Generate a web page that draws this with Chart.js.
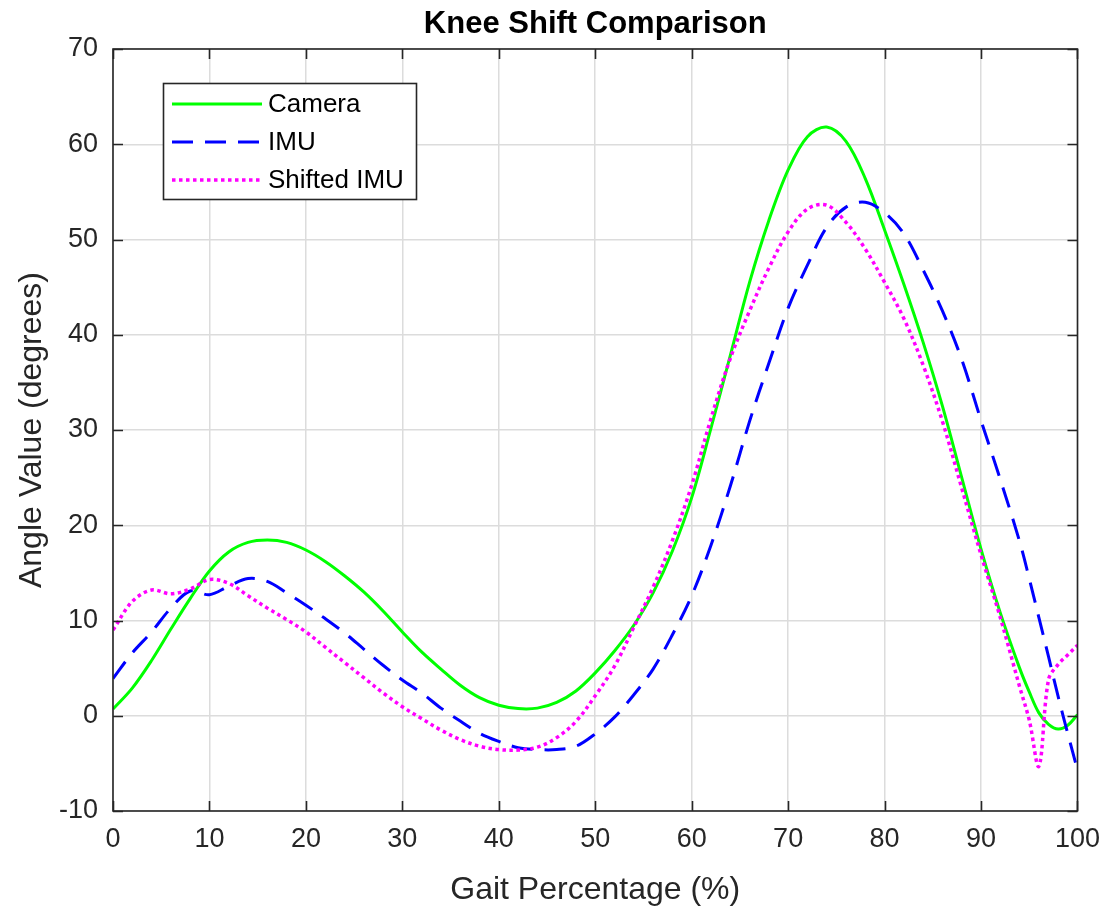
<!DOCTYPE html>
<html>
<head>
<meta charset="utf-8">
<title>Knee Shift Comparison</title>
<script src="https://cdn.jsdelivr.net/npm/chart.js@4.4.1/dist/chart.umd.min.js"></script>
<style>
  html, body { margin: 0; padding: 0; background: #ffffff; }
  #wrap { width: 1112px; height: 909px; }
</style>
</head>
<body>
<div id="wrap"><canvas id="knee" width="1112" height="909"></canvas></div>
<script>
// Gait cycle samples (%) shared by all three traces
const gaitPct = [0, 2, 4, 6, 8, 10, 12, 14, 16, 18, 20, 22, 24, 26, 28, 30, 32, 34, 36, 38,
  40, 42, 44, 46, 48, 50, 52, 54, 56, 58, 60, 62, 64, 66, 68, 70, 72, 74, 76, 78,
  80, 82, 84, 86, 88, 90, 92, 94, 95, 96, 97, 98, 99, 100];

// Knee angle from the camera system (degrees)
const cameraAngle = [0.7, 2.9, 5.8, 9.1, 12.3, 15.2, 17.2, 18.2, 18.45, 18.2, 17.4, 16.2, 14.7, 13.0, 11.0, 8.8, 6.7, 4.9, 3.2, 1.9,
  1.1, 0.75, 0.8, 1.4, 2.6, 4.5, 6.8, 9.5, 12.9, 17.3, 22.9, 30.2, 37.8, 45.5, 52.0, 57.3, 60.8, 61.8, 60.3, 56.4,
  51.0, 45.3, 39.2, 32.5, 25.0, 17.5, 10.8, 5.0, 2.5, 0.3, -0.9, -1.4, -1.0, 0.1];

// Knee angle from the IMU (degrees)
const imuAngle = [3.9, 6.6, 8.8, 11.3, 13.1, 12.7, 13.6, 14.4, 14.1, 12.9, 11.6, 10.2, 8.7, 7.0, 5.3, 3.75, 2.4, 0.8, -0.55, -1.85,
  -2.7, -3.35, -3.55, -3.55, -3.2, -1.9, -0.15, 2.2, 4.9, 8.5, 12.6, 17.9, 24.1, 30.9, 37.0, 42.8, 47.3, 51.3, 53.4, 53.9,
  52.8, 50.6, 46.8, 42.5, 37.4, 31.0, 24.8, 18.3, 14.4, 10.3, 6.2, 2.0, -1.9, -5.7];

// IMU knee angle after the time shift (degrees)
const shiftedImuAngle = [9.0, 12.0, 13.2, 12.8, 13.3, 14.3, 13.9, 12.6, 11.3, 10.1, 8.8, 7.2, 5.6, 4.0, 2.4, 0.95, -0.3, -1.5, -2.5, -3.2,
  -3.55, -3.6, -3.3, -2.3, -0.6, 2.1, 5.2, 9.3, 13.5, 18.4, 24.2, 31.2, 37.5, 42.5, 47.0, 50.8, 53.2, 53.6, 51.8, 49.0,
  45.5, 41.7, 36.8, 30.9, 23.9, 16.9, 10.3, 3.05, -0.45, -5.3, 3.8, 5.4, 6.4, 7.4];

const xTicks = [0, 10, 20, 30, 40, 50, 60, 70, 80, 90, 100];
const yTicks = [-10, 0, 10, 20, 30, 40, 50, 60, 70];

const FONT = '"Liberation Sans", Arial, Helvetica, sans-serif';
const INK = '#262626';

const toPoints = ys => gaitPct.map((x, i) => ({ x: x, y: ys[i] }));

const series = [
  { label: 'Camera', data: cameraAngle, color: '#00ff00', dash: [], width: 3, order: 3 },
  { label: 'IMU', data: imuAngle, color: '#0000ff', dash: [21, 12], width: 3, order: 2 },
  { label: 'Shifted IMU', data: shiftedImuAngle, color: '#ff00ff', dash: [3.5, 3.5], width: 3.5, order: 1 }
];

// Axes box, inward tick marks, title and legend drawn on top of the plot
const framePlugin = {
  id: 'frame',
  afterDatasetsDraw(chart) {
    const { ctx, chartArea: a, scales } = chart;
    const tick = 10;
    ctx.save();
    ctx.strokeStyle = INK;
    ctx.lineWidth = 1.6;
    ctx.beginPath();
    xTicks.forEach(v => {
      const px = Math.round(scales.x.getPixelForValue(v)) + 0.5;
      ctx.moveTo(px, a.bottom); ctx.lineTo(px, a.bottom - tick);
      ctx.moveTo(px, a.top); ctx.lineTo(px, a.top + tick);
    });
    yTicks.forEach(v => {
      const py = Math.round(scales.y.getPixelForValue(v)) + 0.5;
      ctx.moveTo(a.left, py); ctx.lineTo(a.left + tick, py);
      ctx.moveTo(a.right, py); ctx.lineTo(a.right - tick, py);
    });
    ctx.stroke();
    ctx.strokeRect(a.left, a.top, a.right - a.left, a.bottom - a.top);
    ctx.restore();
  },
  afterDraw(chart) {
    const { ctx, chartArea: a } = chart;
    ctx.save();
    // title
    ctx.fillStyle = '#000000';
    ctx.font = 'bold 31px ' + FONT;
    ctx.textAlign = 'center';
    ctx.textBaseline = 'middle';
    ctx.fillText('Knee Shift Comparison', (a.left + a.right) / 2, 24);

    // legend
    const box = { x: 163, y: 83, w: 253, h: 116 };
    ctx.fillStyle = '#ffffff';
    ctx.fillRect(box.x, box.y, box.w, box.h);
    ctx.strokeStyle = INK;
    ctx.lineWidth = 1.6;
    ctx.strokeRect(box.x + 0.5, box.y + 0.5, box.w, box.h);
    ctx.font = '26px ' + FONT;
    ctx.textAlign = 'left';
    ctx.textBaseline = 'middle';
    series.forEach((s, i) => {
      const y = box.y + 21 + i * 38;
      ctx.save();
      ctx.strokeStyle = s.color;
      ctx.lineWidth = s.width;
      ctx.setLineDash(s.dash);
      ctx.beginPath();
      ctx.moveTo(box.x + 9, y);
      ctx.lineTo(box.x + 99, y);
      ctx.stroke();
      ctx.restore();
      ctx.fillStyle = '#000000';
      ctx.fillText(s.label, box.x + 105, y + 1);
    });
    ctx.restore();
  }
};

new Chart(document.getElementById('knee'), {
  type: 'line',
  data: {
    datasets: series.map(s => ({
      label: s.label,
      data: toPoints(s.data),
      borderColor: s.color,
      backgroundColor: s.color,
      borderWidth: s.width,
      borderDash: s.dash,
      borderCapStyle: 'butt',
      pointRadius: 0,
      fill: false,
      tension: 0.35,
      order: s.order
    }))
  },
  options: {
    responsive: false,
    animation: false,
    layout: { padding: { top: 49, right: 32, left: 0, bottom: 0 } },
    plugins: {
      legend: { display: false },
      title: { display: false },
      tooltip: { enabled: false }
    },
    scales: {
      x: {
        type: 'linear',
        min: 0,
        max: 100,
        afterFit: scale => { scale.height = 98; },
        afterBuildTicks: scale => { scale.ticks = xTicks.map(v => ({ value: v })); },
        ticks: {
          autoSkip: false,
          maxRotation: 0,
          padding: 12,
          color: INK,
          font: { family: FONT, size: 27 }
        },
        grid: { color: '#dcdcdc', lineWidth: 1.5, drawTicks: false },
        border: { display: false },
        title: {
          display: true,
          text: 'Gait Percentage (%)',
          color: INK,
          font: { family: FONT, size: 32 },
          padding: { top: 5, bottom: 0 }
        }
      },
      y: {
        type: 'linear',
        min: -10,
        max: 70,
        afterFit: scale => { scale.width = 113; },
        afterBuildTicks: scale => { scale.ticks = yTicks.map(v => ({ value: v })); },
        ticks: {
          autoSkip: false,
          padding: 15,
          color: INK,
          font: { family: FONT, size: 27 }
        },
        grid: { color: '#dcdcdc', lineWidth: 1.5, drawTicks: false },
        border: { display: false },
        title: {
          display: true,
          text: 'Angle Value (degrees)',
          color: INK,
          font: { family: FONT, size: 32 },
          padding: { top: 13, bottom: 0 }
        }
      }
    }
  },
  plugins: [framePlugin]
});
</script>
</body>
</html>
